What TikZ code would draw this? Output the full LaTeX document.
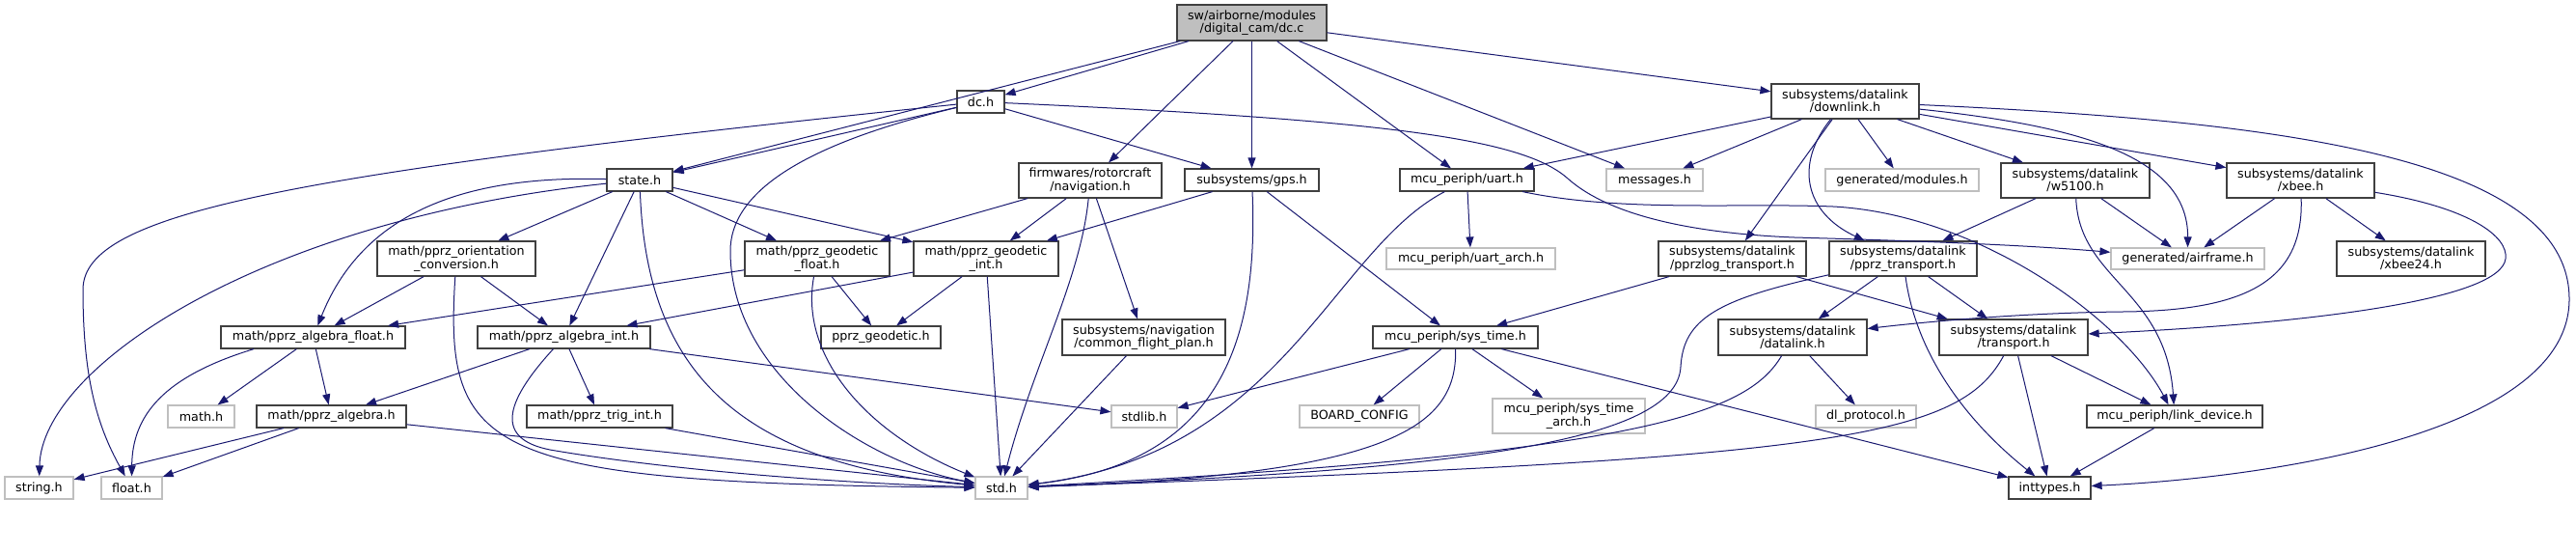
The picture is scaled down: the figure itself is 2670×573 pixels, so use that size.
\documentclass[tikz,border=0pt]{standalone}
\usepackage{fontspec}
\setmainfont{DejaVu Sans}
\usetikzlibrary{arrows.meta}
\definecolor{edgec}{HTML}{191970}
\definecolor{bdark}{HTML}{404040}
\definecolor{blight}{HTML}{BFBFBF}
\tikzset{
  base/.style={draw, line width=0.6pt, inner sep=0pt, align=center, font=\fontsize{6.35}{6.7}\selectfont, text=black},
  inc/.style={base, draw=bdark, fill=white},
  ext/.style={base, draw=blight, fill=white},
  root/.style={base, draw=bdark, fill=blight},
  dep/.style={draw=edgec, line width=0.5pt, -{Triangle[length=5.5pt,width=4pt]}},
}
\begin{document}
\begin{tikzpicture}[x=0.5pt,y=-0.5pt]
\useasboundingbox (0,0) rectangle (2670,573);
\fill[white] (0,0) rectangle (2670,573);
% nodes
\node[root, minimum width=77.5pt, minimum height=18.5pt] (dcc) at (1297.5,23.5) {sw/airborne/modules\\/digital\_cam/dc.c};
\node[inc, minimum width=24.5pt, minimum height=11.5pt] (dch) at (1016.5,105.5) {dc.h};
\node[inc, minimum width=34pt, minimum height=11.5pt] (state) at (663,186.5) {state.h};
\node[inc, minimum width=74pt, minimum height=18pt] (nav) at (1130,187) {firmwares/rotorcraft\\/navigation.h};
\node[inc, minimum width=69.5pt, minimum height=11.5pt] (gps) at (1297.5,186.5) {subsystems/gps.h};
\node[inc, minimum width=69.5pt, minimum height=11.5pt] (uart) at (1520.5,186.5) {mcu\_periph/uart.h};
\node[ext, minimum width=50pt, minimum height=11.5pt] (msg) at (1715,186.5) {messages.h};
\node[inc, minimum width=76.5pt, minimum height=18pt] (down) at (1912.5,105) {subsystems/datalink\\/downlink.h};
\node[ext, minimum width=79.5pt, minimum height=11.5pt] (mods) at (1971.5,186.5) {generated/modules.h};
\node[inc, minimum width=77pt, minimum height=18pt] (w5100) at (2151,187) {subsystems/datalink\\/w5100.h};
\node[inc, minimum width=76.5pt, minimum height=18pt] (xbee) at (2384.5,187) {subsystems/datalink\\/xbee.h};
\node[inc, minimum width=82pt, minimum height=18pt] (orient) at (473,268) {math/pprz\_orientation\\\_conversion.h};
\node[inc, minimum width=75pt, minimum height=18pt] (geof) at (847,268) {math/pprz\_geodetic\\\_float.h};
\node[inc, minimum width=75pt, minimum height=18pt] (geoi) at (1022,268) {math/pprz\_geodetic\\\_int.h};
\node[ext, minimum width=87.5pt, minimum height=11pt] (uarch) at (1524.5,268) {mcu\_periph/uart\_arch.h};
\node[inc, minimum width=76.5pt, minimum height=18pt] (plog) at (1795.5,268) {subsystems/datalink\\/pprzlog\_transport.h};
\node[inc, minimum width=76.5pt, minimum height=18pt] (ptr) at (1972.5,268) {subsystems/datalink\\/pprz\_transport.h};
\node[ext, minimum width=79.5pt, minimum height=11pt] (airf) at (2267.5,268) {generated/airframe.h};
\node[inc, minimum width=77pt, minimum height=18pt] (xb24) at (2499,268) {subsystems/datalink\\/xbee24.h};
\node[inc, minimum width=95.5pt, minimum height=11.5pt] (algf) at (324.5,349.5) {math/pprz\_algebra\_float.h};
\node[inc, minimum width=89.5pt, minimum height=11.5pt] (algi) at (584.5,349.5) {math/pprz\_algebra\_int.h};
\node[inc, minimum width=62pt, minimum height=11.5pt] (geo) at (913,349.5) {pprz\_geodetic.h};
\node[inc, minimum width=84.5pt, minimum height=18.5pt] (cfp) at (1185.5,349.5) {subsystems/navigation\\/common\_flight\_plan.h};
\node[inc, minimum width=85.5pt, minimum height=11.5pt] (syst) at (1508.5,349.5) {mcu\_periph/sys\_time.h};
\node[inc, minimum width=77pt, minimum height=18.5pt] (dl) at (1858,349.5) {subsystems/datalink\\/datalink.h};
\node[inc, minimum width=77pt, minimum height=18.5pt] (tr) at (2087,349.5) {subsystems/datalink\\/transport.h};
\node[ext, minimum width=34.5pt, minimum height=11.5pt] (math) at (208.5,431.5) {math.h};
\node[inc, minimum width=77.5pt, minimum height=11.5pt] (alg) at (343.5,431.5) {math/pprz\_algebra.h};
\node[inc, minimum width=75.5pt, minimum height=11.5pt] (trig) at (621.5,431.5) {math/pprz\_trig\_int.h};
\node[ext, minimum width=34pt, minimum height=11.5pt] (stdlib) at (1186,431.5) {stdlib.h};
\node[ext, minimum width=62pt, minimum height=11.5pt] (board) at (1409,431.5) {BOARD\_CONFIG};
\node[ext, minimum width=79pt, minimum height=18pt] (starch) at (1626,431) {mcu\_periph/sys\_time\\\_arch.h};
\node[ext, minimum width=52pt, minimum height=11.5pt] (dlp) at (1934,431.5) {dl\_protocol.h};
\node[inc, minimum width=91pt, minimum height=11.5pt] (link) at (2254,431.5) {mcu\_periph/link\_device.h};
\node[ext, minimum width=35.5pt, minimum height=11.5pt] (string) at (40.5,505.5) {string.h};
\node[ext, minimum width=31.5pt, minimum height=11.5pt] (float) at (136.5,505.5) {float.h};
\node[ext, minimum width=27pt, minimum height=11.5pt] (std) at (1038,505.5) {std.h};
\node[inc, minimum width=42.5pt, minimum height=11.5pt] (int) at (2124.5,505.5) {inttypes.h};
% straight edges
\foreach \a/\b in {dcc/state, dcc/dch, dcc/nav, dcc/gps, dcc/uart, dcc/msg, dcc/down,
  dch/state, dch/gps, state/orient, state/algi, state/geof, state/geoi,
  orient/algf, orient/algi, algf/math, algf/alg, alg/string, alg/float, alg/std,
  algi/alg, algi/trig, algi/stdlib, trig/std, geof/algf, geof/geo,
  geoi/algi, geoi/geo, geoi/std, nav/geof, nav/geoi, nav/cfp, gps/geoi, gps/syst,
  cfp/std, uart/uarch, syst/stdlib, syst/board, syst/starch, syst/int,
  plog/syst, plog/tr, down/uart, down/msg, down/plog, down/mods, down/w5100, down/xbee,
  w5100/ptr, w5100/airf, xbee/airf, xbee/xb24, ptr/dl, ptr/tr, dl/dlp,
  tr/int, tr/link, link/int}
  {\draw[dep] (\a) -- (\b);}
% curved edges
\draw[dep] (dch) .. controls (300,180) and (86,220) .. (86,300) .. controls (86,390) and (100,440) .. (float);
\draw[dep] (dch) .. controls (830,150) and (757,200) .. (757,260) .. controls (757,390) and (900,480) .. (std);
\draw[dep] (dch) .. controls (1450,125) and (1580,145) .. (1625,185) .. controls (1670,225) and (1760,242) .. (1860,246) .. controls (2000,250) and (2100,254) .. (airf);
\draw[dep] (state) .. controls (500,182) and (380,210) .. (algf);
\draw[dep] (state) .. controls (270,228) and (43,380) .. (string);
\draw[dep] (state) .. controls (670,380) and (760,480) .. (std);
\draw[dep] (orient) .. controls (460,470) and (500,500) .. (std);
\draw[dep] ([xshift=-30.75pt]algf.south) .. controls (170,390) and (137,430) .. (float);
\draw[dep] (algi) .. controls (520,420) and (515,455) .. (570,466) .. controls (680,485) and (850,500) .. (std);
\draw[dep] (geof) .. controls (828,370) and (900,450) .. (std);
\draw[dep] (nav) .. controls (1120,290) and (1070,380) .. (std);
\draw[dep] (gps) .. controls (1305,360) and (1260,480) .. (std);
\draw[dep] (uart) .. controls (1380,260) and (1330,470) .. (std);
\draw[dep] (syst) .. controls (1510,440) and (1450,492) .. (std);
\draw[dep] (uart) .. controls (1680,220) and (1800,210) .. (1900,214) .. controls (2050,222) and (2200,330) .. (link);
\draw[dep] (down) .. controls (1860,170) and (1870,220) .. (ptr);
\draw[dep] (down) .. controls (2150,130) and (2268,160) .. (airf);
\draw[dep] (down) .. controls (2350,125) and (2663,160) .. (2663,310) .. controls (2663,450) and (2350,495) .. (int);
\draw[dep] (w5100) .. controls (2155,290) and (2245,300) .. (link);
\draw[dep] (xbee) .. controls (2388,290) and (2330,322) .. (2200,323) .. controls (2100,324) and (2000,333) .. (dl);
\draw[dep] (xbee) .. controls (2560,215) and (2600,245) .. (2597,268) .. controls (2592,310) and (2400,335) .. (tr);
\draw[dep] (ptr) .. controls (1780,310) and (1745,330) .. (1742,380) .. controls (1738,460) and (1500,487) .. (std);
\draw[dep] (ptr) .. controls (1985,360) and (2030,430) .. (int);
\draw[dep] (dl) .. controls (1810,430) and (1700,470) .. (std);
\draw[dep] (tr) .. controls (2030,455) and (1900,475) .. (std);
\end{tikzpicture}
\end{document}
